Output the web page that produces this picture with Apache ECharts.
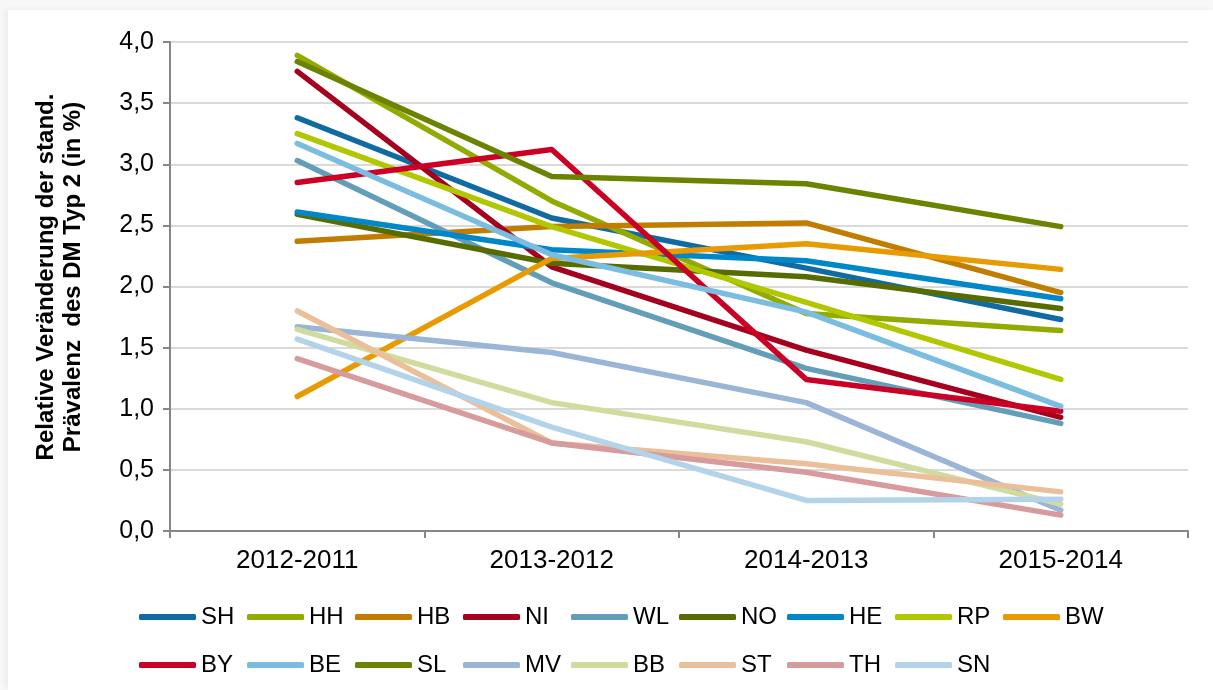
<!DOCTYPE html>
<html>
<head>
<meta charset="utf-8">
<script src="https://cdn.jsdelivr.net/npm/echarts@6/dist/echarts.min.js"></script>
<style>
  html, body { margin: 0; padding: 0; background: #f8f8f8; }
  .card { position: absolute; left: 8px; top: 10px; right: 0; bottom: 0; background: #fff;
          box-shadow: -3px -1px 6px rgba(0,0,0,0.05); }
  #chart { position: absolute; left: 0; top: 0; width: 1213px; height: 690px; }
</style>
</head>
<body>
<div class="card"></div>
<div id="chart"></div>
<script>
// Kategorien (x-Achse)
const categories = ['2012-2011', '2013-2012', '2014-2013', '2015-2014'];

// Werte je Bundesland
const SH = [3.38, 2.56, 2.15, 1.73];
const HH = [3.89, 2.70, 1.78, 1.64];
const HB = [2.37, 2.49, 2.52, 1.95];
const NI = [3.76, 2.16, 1.48, 0.93];
const WL = [3.03, 2.03, 1.33, 0.88];
const NO = [2.59, 2.19, 2.08, 1.82];
const HE = [2.61, 2.30, 2.21, 1.90];
const RP = [3.25, 2.49, 1.87, 1.24];
const BW = [1.10, 2.23, 2.35, 2.14];
const BY = [2.85, 3.12, 1.24, 0.98];
const BE = [3.17, 2.26, 1.79, 1.02];
const SL = [3.84, 2.90, 2.84, 2.49];
const MV = [1.67, 1.46, 1.05, 0.17];
const BB = [1.65, 1.05, 0.73, 0.22];
const ST = [1.80, 0.72, 0.55, 0.32];
const TH = [1.41, 0.72, 0.48, 0.13];
const SN = [1.57, 0.85, 0.25, 0.26];

const names = ['SH', 'HH', 'HB', 'NI', 'WL', 'NO', 'HE', 'RP', 'BW',
               'BY', 'BE', 'SL', 'MV', 'BB', 'ST', 'TH', 'SN'];
const values = [SH, HH, HB, NI, WL, NO, HE, RP, BW, BY, BE, SL, MV, BB, ST, TH, SN];
const colors = ['#0f6ba1', '#93aa00', '#c17d00', '#a6001f', '#639eb9', '#566c00', '#0087c8', '#b1c800', '#e79b00',
                '#cc0025', '#7bbde0', '#6a8300', '#9bb5d7', '#d0dc9e', '#ebbf9a', '#d79a9d', '#b3d3ea'];

// y-Achse Ticks
const yMin = 0, yMax = 4, yStep = 0.5;

const chart = echarts.init(document.getElementById('chart'));

// Legende: feste Abstände, 9 Einträge pro Zeile
const legends = names.map((n, i) => ({
  left: 134 + (i % 9) * 108,
  top: i < 9 ? 600 : 648,
  data: [n],
  icon: 'roundRect',
  itemWidth: 57,
  itemHeight: 6,
  textStyle: {
    fontFamily: '"Liberation Sans Narrow", "Liberation Sans", Arial, sans-serif',
    fontSize: 24,
    color: '#000'
  }
}));

chart.setOption({
  animation: false,
  color: colors,
  textStyle: { fontFamily: '"Liberation Sans", Arial, sans-serif' },
  grid: { left: 170, right: 25, top: 42, bottom: 159 },
  legend: legends,
  graphic: [{
    type: 'text',
    x: 60,
    y: 277,
    rotation: Math.PI / 2,
    style: {
      text: 'Relative Veränderung der stand.\nPrävalenz  des DM Typ 2 (in %)',
      fill: '#000',
      font: 'bold 24px "Liberation Sans", Arial, sans-serif',
      align: 'center',
      verticalAlign: 'middle',
      lineHeight: 27
    }
  }],
  xAxis: {
    type: 'category',
    data: categories,
    boundaryGap: true,
    axisLine: { lineStyle: { color: '#868686', width: 2 } },
    axisTick: { show: true, length: 7, lineStyle: { color: '#868686', width: 2 } },
    axisLabel: { color: '#000', fontSize: 26, margin: 17 }
  },
  yAxis: {
    type: 'value',
    min: yMin,
    max: yMax,
    interval: yStep,
    axisLine: { show: true, lineStyle: { color: '#868686', width: 2 } },
    axisTick: { show: true, length: 7, lineStyle: { color: '#868686', width: 2 } },
    axisLabel: {
      color: '#000',
      fontSize: 25,
      margin: 16,
      formatter: v => v.toFixed(1).replace('.', ',')
    },
    splitLine: { lineStyle: { color: '#dadada', width: 2 } }
  },
  series: names.map((n, i) => ({
    name: n,
    type: 'line',
    data: values[i],
    symbol: 'none',
    showSymbol: false,
    lineStyle: { width: 5.5, cap: 'round', join: 'round', color: colors[i] },
    itemStyle: { color: colors[i] }
  }))
});
</script>
</body>
</html>
